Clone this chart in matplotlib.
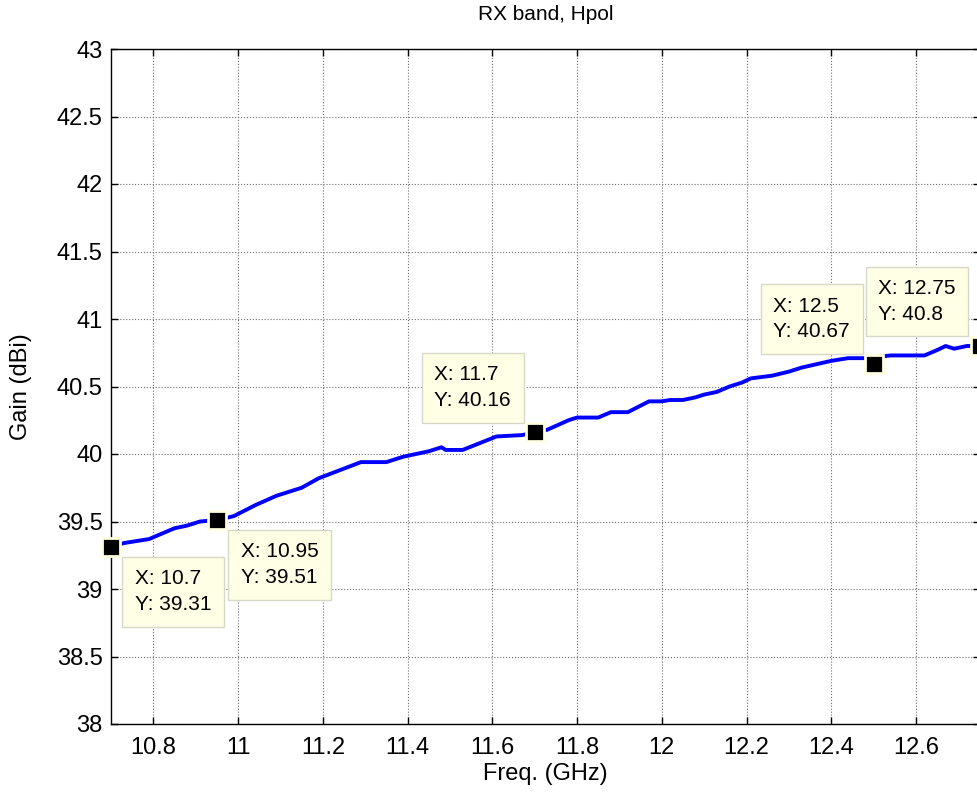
import matplotlib.pyplot as plt
from matplotlib.ticker import FuncFormatter

# measured gain across the RX band, horizontal polarisation
freq = [10.70, 10.73, 10.79, 10.85, 10.88, 10.91, 10.95, 10.99, 11.04, 11.09, 11.12, 11.15,
        11.19, 11.24, 11.29, 11.35, 11.39, 11.45, 11.48, 11.49, 11.53, 11.57, 11.61, 11.67,
        11.70, 11.73, 11.78, 11.80, 11.85, 11.88, 11.92, 11.97, 12.00, 12.02, 12.05, 12.08,
        12.10, 12.13, 12.16, 12.19, 12.21, 12.26, 12.30, 12.33, 12.40, 12.44, 12.49, 12.50,
        12.51, 12.54, 12.62, 12.65, 12.67, 12.69, 12.72, 12.75]
gain = [39.31, 39.34, 39.37, 39.45, 39.47, 39.50, 39.51, 39.54, 39.62, 39.69, 39.72, 39.75,
        39.82, 39.88, 39.94, 39.94, 39.98, 40.02, 40.05, 40.03, 40.03, 40.08, 40.13, 40.14,
        40.16, 40.18, 40.25, 40.27, 40.27, 40.31, 40.31, 40.39, 40.39, 40.40, 40.40, 40.42,
        40.44, 40.46, 40.50, 40.53, 40.56, 40.58, 40.61, 40.64, 40.69, 40.71, 40.71, 40.67,
        40.72, 40.73, 40.73, 40.77, 40.80, 40.78, 40.80, 40.80]

# data tips
tip_x = [10.7, 10.95, 11.7, 12.5, 12.75]
tip_y = [39.31, 39.51, 40.16, 40.67, 40.8]
tip_below = [True, True, False, False, False]

x_ticks = [10.8, 11.0, 11.2, 11.4, 11.6, 11.8, 12.0, 12.2, 12.4, 12.6]
y_ticks = [38, 38.5, 39, 39.5, 40, 40.5, 41, 41.5, 42, 42.5, 43]

plt.rcParams['font.family'] = ['Liberation Sans', 'DejaVu Sans']

fig = plt.figure(figsize=(9.77, 8.0), dpi=100)
ax = fig.add_axes([0.1136, 0.095, 0.889, 0.84375])

ax.plot(freq, gain, color='#0000ff', linewidth=2.8, solid_joinstyle='round', zorder=3)

ax.set_xlim(10.7, 12.75)
ax.set_ylim(38, 43)
ax.set_xticks(x_ticks)
ax.set_yticks(y_ticks)
ax.xaxis.set_major_formatter(FuncFormatter(lambda v, p: '%g' % round(v, 2)))
ax.yaxis.set_major_formatter(FuncFormatter(lambda v, p: '%g' % v))
ax.tick_params(direction='in', length=5, width=1, top=True, right=True, labelsize=17)
ax.tick_params(axis='x', pad=9)
ax.tick_params(axis='y', pad=6)
ax.grid(True, color='#707070', linestyle=':', linewidth=0.8)
for s in ax.spines.values():
    s.set_linewidth(1.0)

ax.set_title('RX band, Hpol', fontsize=15, pad=21)
ax.set_xlabel('Freq. (GHz)', fontsize=17)
ax.set_ylabel('Gain (dBi)', fontsize=17)
ax.xaxis.set_label_coords(0.5, -0.058)
ax.yaxis.set_label_coords(-0.091, 0.5)

box = dict(boxstyle='square,pad=0.6', facecolor='#ffffe6', edgecolor='#d8d8c8', linewidth=1)
for x, y, below in zip(tip_x, tip_y, tip_below):
    label = 'X: %g\nY: %g' % (x, y)
    if below:
        ax.annotate(label, (x, y), xytext=(17, -16), textcoords='offset points',
                    ha='left', va='top', multialignment='left', fontsize=15,
                    bbox=box, zorder=5, linespacing=1.45)
    else:
        ax.annotate(label, (x, y), xytext=(-17, 16), textcoords='offset points',
                    ha='right', va='bottom', multialignment='left', fontsize=15,
                    bbox=box, zorder=5, linespacing=1.45)

ax.plot(tip_x, tip_y, 's', color='black', markersize=13, markeredgewidth=2,
        markeredgecolor='#ffffe0', clip_on=False, zorder=6)

fig.savefig('out.png', dpi=100)
